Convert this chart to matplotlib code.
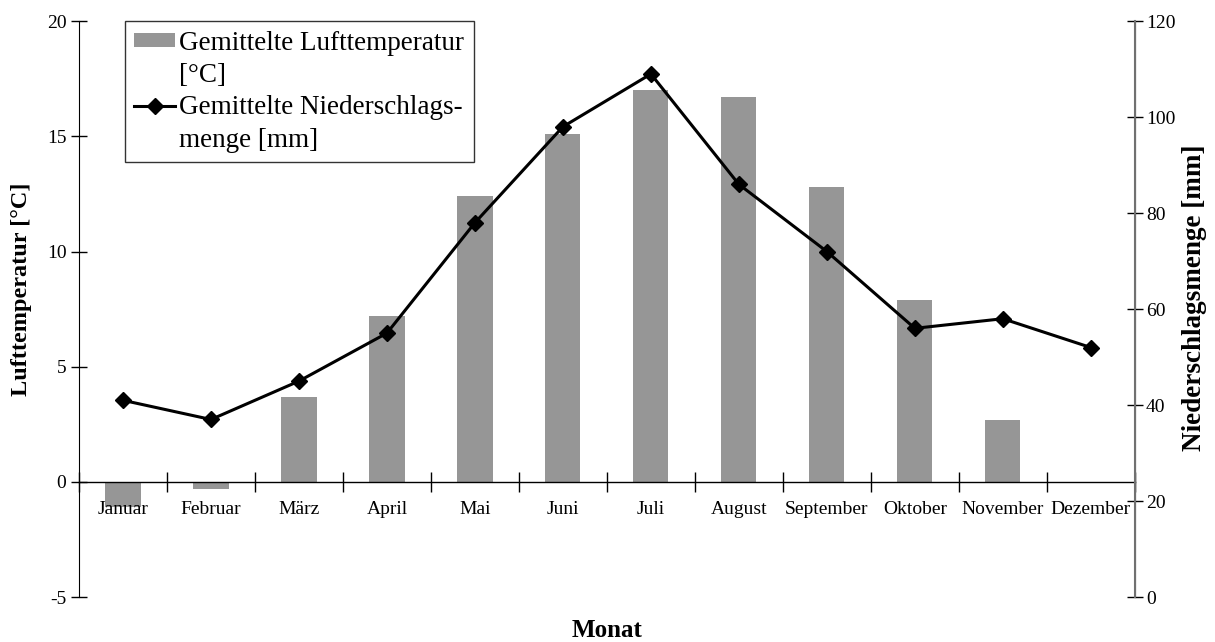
import matplotlib.pyplot as plt
from matplotlib.lines import Line2D
from matplotlib.patches import Patch

months = ["Januar", "Februar", "März", "April", "Mai", "Juni",
          "Juli", "August", "September", "Oktober", "November", "Dezember"]
temperature = [-1.1, -0.3, 3.7, 7.2, 12.4, 15.1, 17.0, 16.7, 12.8, 7.9, 2.7, 0.0]
precipitation = [41, 37, 45, 55, 78, 98, 109, 86, 72, 56, 58, 52]

plt.rcParams['font.family'] = ['Liberation Serif', 'DejaVu Serif']
plt.rcParams['axes.unicode_minus'] = False

fig = plt.figure(figsize=(12.15, 6.42), dpi=100)
ax = fig.add_axes([0.065, 0.07, 0.869, 0.897])
ax2 = ax.twinx()

x = range(len(months))
ax.bar(x, temperature, width=0.4, color='#969696', zorder=1)
ax2.plot(x, precipitation, color='black', linewidth=2.2, marker='D',
         markersize=8, zorder=3)

# left axis
ax.set_xlim(-0.5, len(months) - 0.5)
ax.set_ylim(-5, 20)
ax.set_yticks([-5, 0, 5, 10, 15, 20])
ax.tick_params(axis='y', direction='inout', length=12, width=1, labelsize=14, pad=3)

# x axis sits on zero
ax.spines['top'].set_visible(False)
ax.spines['bottom'].set_position(('data', 0))
ax.spines['bottom'].set_linewidth(1)
ax.set_xticks([i - 0.5 for i in range(len(months) + 1)])
ax.set_xticklabels([])
ax.set_xticks(list(x), minor=True)
ax.set_xticklabels(months, minor=True, fontsize=14)
ax.tick_params(axis='x', which='major', direction='inout', length=14, width=1)
ax.tick_params(axis='x', which='minor', length=0, pad=14)

# right axis
ax2.set_ylim(0, 120)
ax2.set_yticks([0, 20, 40, 60, 80, 100, 120])
ax2.tick_params(axis='y', direction='inout', length=12, width=1, labelsize=14, pad=2)
ax2.spines['top'].set_visible(False)
ax2.spines['bottom'].set_visible(False)
ax2.spines['left'].set_visible(False)
ax2.spines['right'].set_color('#707070')
ax2.spines['right'].set_linewidth(1.5)

# axis titles
fig.text(0.018, 0.55, "Lufttemperatur [°C]", rotation=90, ha='center', va='center',
         fontsize=17.5, fontweight='bold')
fig.text(0.983, 0.536, "Niederschlagsmenge [mm]", rotation=90, ha='center', va='center',
         fontsize=19.5, fontweight='bold')
fig.text(0.5, 0.018, "Monat", ha='center', va='center', fontsize=18, fontweight='bold')

# one legend row per text line so the handles sit on the first line
blank = Patch(facecolor='none', edgecolor='none')
handles = [Patch(facecolor='#969696', edgecolor='none'), blank,
           Line2D([], [], color='black', linewidth=2.2, marker='D', markersize=8), blank]
labels = ["Gemittelte Lufttemperatur", "[°C]", "Gemittelte Niederschlags-", "menge [mm]"]
leg = ax2.legend(handles, labels, loc='upper left', bbox_to_anchor=(0.0436, 1.0),
                 borderaxespad=0, fontsize=19.5, frameon=True, fancybox=False,
                 handlelength=1.5, handleheight=0.4, handletextpad=0.15,
                 labelspacing=0.27, borderpad=0.35)
leg.get_frame().set_edgecolor('black')
leg.get_frame().set_linewidth(1)

fig.savefig("out.png", dpi=100)
